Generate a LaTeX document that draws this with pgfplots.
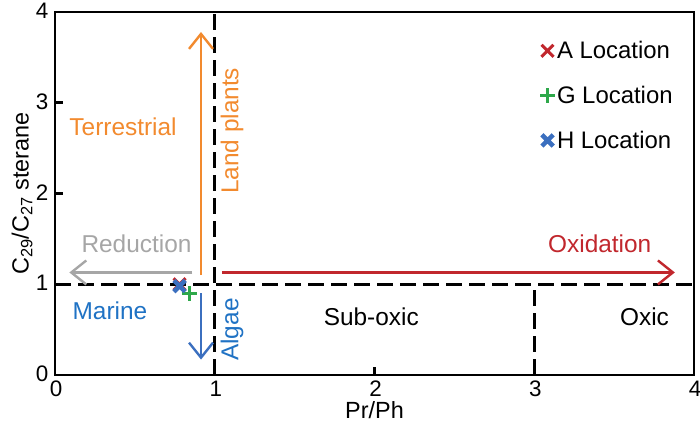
\documentclass[border=0pt]{standalone}
\usepackage{pgfplots}
\pgfplotsset{compat=1.18}
\usepackage{fontspec}
\setmainfont{Liberation Sans}
\usetikzlibrary{arrows.meta}
\definecolor{cred}{HTML}{C1272D}
\definecolor{cgreen}{HTML}{2EA84A}
\definecolor{cblue}{HTML}{3B6FBF}
\definecolor{corange}{HTML}{F28A2E}
\definecolor{cgray}{HTML}{A6A6A6}
\definecolor{cmarine}{HTML}{1F72C4}
\begin{document}
\begin{tikzpicture}[font=\fontsize{24.5}{28}\selectfont]
\begin{axis}[
  name=ax,
  scale only axis, width=639bp, height=363bp,
  xmin=0, xmax=4, ymin=0, ymax=4,
  xtick={0,1,2,3,4}, ytick={0,1,2,3,4},
  xtick pos=bottom, ytick pos=left,
  tick align=inside, major tick length=8bp,
  axis line style={line width=2.6bp},
  tick style={line width=2.6bp, black},
  /pgf/number format/assume math mode=true,
  ticklabel style={font=\fontsize{22.5}{24}\selectfont},
  xticklabel style={anchor=center, yshift=-14bp, xshift=1bp},
  yticklabel style={anchor=center, xshift=-13bp, yshift=1bp},
  xlabel={Pr/Ph}, ylabel={C\textsubscript{29}/C\textsubscript{27} sterane},
  label style={font=\fontsize{23.5}{26}\selectfont},
  xlabel style={at={(axis description cs:0.5,-0.097)}, anchor=center},
  ylabel style={at={(axis description cs:-0.0516,0.5)}, anchor=center},
  legend style={draw=none, fill=none, at={(0.97,0.925)}, anchor=north east,
    font=\fontsize{24}{26}\selectfont, row sep=22bp, legend cell align=left,
    inner sep=0pt},
  legend image code/.code={\draw[#1] (0bp,0bp) plot coordinates {(3bp,0bp)};},
  clip=false,
]
% dashed guide lines
\addplot[black, line width=3.3bp, dash pattern=on 16bp off 7bp, forget plot] coordinates {(1,0) (1,4)};
\addplot[black, line width=3.3bp, dash pattern=on 16bp off 7bp, forget plot] coordinates {(0,1) (4,1)};
\addplot[black, line width=3.3bp, dash pattern=on 16bp off 7bp, forget plot] coordinates {(3,0) (3,1)};
% arrows
\draw[corange, line width=2.4bp, -{Straight Barb[length=15bp,width=24bp,line width=2.4bp]}] (axis cs:0.914,1.10) -- (axis cs:0.914,3.78);
\draw[cblue, line width=2.4bp, -{Straight Barb[length=15bp,width=24bp,line width=2.4bp]}] (axis cs:0.914,0.90) -- (axis cs:0.914,0.17);
\draw[cgray, line width=2.4bp, -{Straight Barb[length=15bp,width=24bp,line width=2.4bp]}] (axis cs:0.86,1.13) -- (axis cs:0.09,1.13);
\draw[cred, line width=2.4bp, -{Straight Barb[length=15bp,width=24bp,line width=2.4bp]}] (axis cs:1.045,1.13) -- (axis cs:3.88,1.13);
% text
\node[corange] at (axis cs:0.426,2.73) {Terrestrial};
\node[cgray] at (axis cs:0.51,1.45) {Reduction};
\node[cred] at (axis cs:3.41,1.45) {Oxidation};
\node[cmarine] at (axis cs:0.344,0.71) {Marine};
\node[corange, rotate=90] at (axis cs:1.108,2.69) {Land plants};
\node[cmarine, rotate=90] at (axis cs:1.108,0.50) {Algae};
\node at (axis cs:1.98,0.64) {Sub-oxic};
\node at (axis cs:3.69,0.64) {Oxic};
% data
\addplot[only marks, mark=x, mark size=8.5bp, cred, mark options={line width=3bp}] coordinates {(0.78,1.00)};
\addlegendentry{A Location}
\addplot[only marks, mark=+, mark size=7.5bp, cgreen, mark options={line width=3bp}] coordinates {(0.84,0.90)};
\addlegendentry{G Location}
\addplot[only marks, mark=x, mark size=8bp, cblue, mark options={line width=4.5bp}] coordinates {(0.78,0.98)};
\addlegendentry{H Location}
\end{axis}
\pgfresetboundingbox
\path (ax.south west) ++(-55bp,-51bp) rectangle ++(700bp,426bp);
\end{tikzpicture}
\end{document}
